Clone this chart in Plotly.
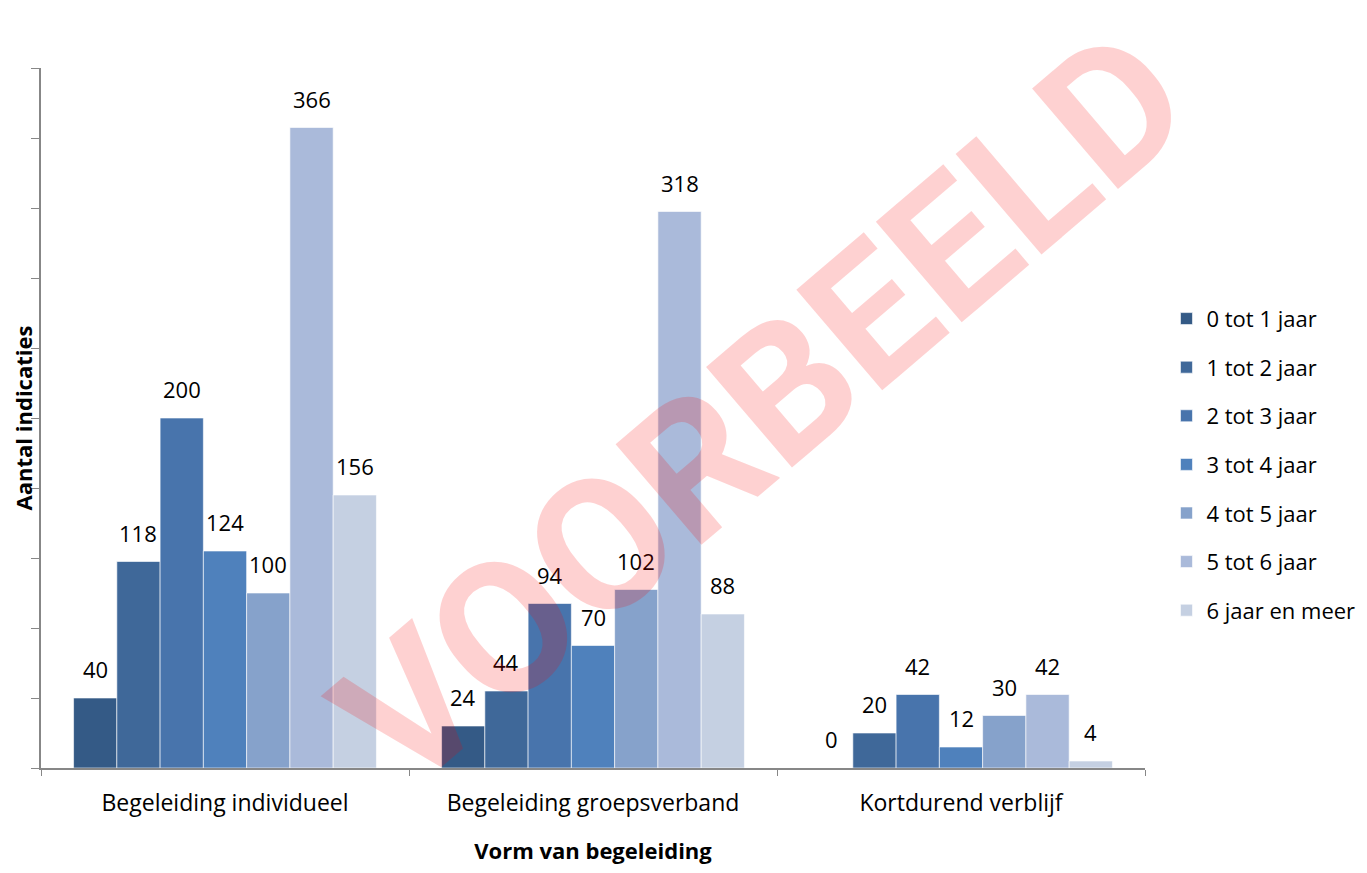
import plotly.graph_objects as go

categories = ['Begeleiding individueel', 'Begeleiding groepsverband', 'Kortdurend verblijf']
series_names = ['0 tot 1 jaar', '1 tot 2 jaar', '2 tot 3 jaar', '3 tot 4 jaar',
                '4 tot 5 jaar', '5 tot 6 jaar', '6 jaar en meer']
v_0_1 = [40, 24, 0]
v_1_2 = [118, 44, 20]
v_2_3 = [200, 94, 42]
v_3_4 = [124, 70, 12]
v_4_5 = [100, 102, 30]
v_5_6 = [366, 318, 42]
v_6_plus = [156, 88, 4]
series_values = [v_0_1, v_1_2, v_2_3, v_3_4, v_4_5, v_5_6, v_6_plus]

colors = ['#345A86', '#3F6899', '#4874AC', '#4F81BC', '#86A2CB', '#AABADA', '#C5D0E2']
FONT = 'Open Sans'
BARGAP = 0.177
n = len(series_names)

fig = go.Figure()
for i, (name, vals) in enumerate(zip(series_names, series_values)):
    fig.add_trace(go.Bar(
        x=categories, y=vals, name=name,
        marker=dict(color=colors[i], line=dict(color='rgba(255,255,255,0.6)', width=1)),
        legendgroup=f'g{i}',
    ))
    # value labels, sitting a bit above the bars like the original
    offset = (i - (n - 1) / 2) * (1 - BARGAP) / n
    for j, v in enumerate(vals):
        fig.add_annotation(
            x=j + offset, y=v, xref='x', yref='y', text=str(v),
            showarrow=False, yanchor='bottom', yshift=12,
            font=dict(family=FONT, size=22, color='black'),
        )

# watermark
fig.add_annotation(
    text='<b>VOORBEELD</b>', xref='paper', yref='paper', x=0.653, y=0.513,
    showarrow=False, textangle=-40.5,
    font=dict(family='Roboto', size=186, color='rgba(250,0,0,0.18)'),
)

# page body has an 8px margin, so the figure is a bit smaller than the window
fig.update_layout(
    width=1351, height=857,
    paper_bgcolor='white', plot_bgcolor='white',
    barmode='group', bargap=BARGAP, bargroupgap=0,
    margin=dict(l=33, r=214, t=60, b=97),
    font=dict(family=FONT, size=22, color='black'),
    showlegend=True,
    legend=dict(xref='container', yref='container', x=0.8575, y=0.467,
                xanchor='left', yanchor='middle',
                font=dict(family=FONT, size=22), tracegroupgap=17),
    xaxis=dict(
        automargin=False,
        showline=True, linecolor='#878787', linewidth=1.5,
        ticks='outside', tickson='boundaries', ticklen=6, tickcolor='#878787',
        ticklabelstandoff=14,
        tickfont=dict(family=FONT, size=23),
        title=dict(text='<b>Vorm van begeleiding</b>', standoff=36,
                   font=dict(family=FONT, size=22)),
        showgrid=False,
    ),
    yaxis=dict(
        automargin=False,
        range=[0, 400], dtick=40, showticklabels=False,
        showline=True, linecolor='#878787', linewidth=1.5,
        ticks='outside', ticklen=8, tickcolor='#878787',
        showgrid=False, zeroline=False,
        title=dict(text='<b>Aantal indicaties</b>', standoff=7,
                   font=dict(family=FONT, size=22)),
    ),
)

fig.write_html('out.html')
